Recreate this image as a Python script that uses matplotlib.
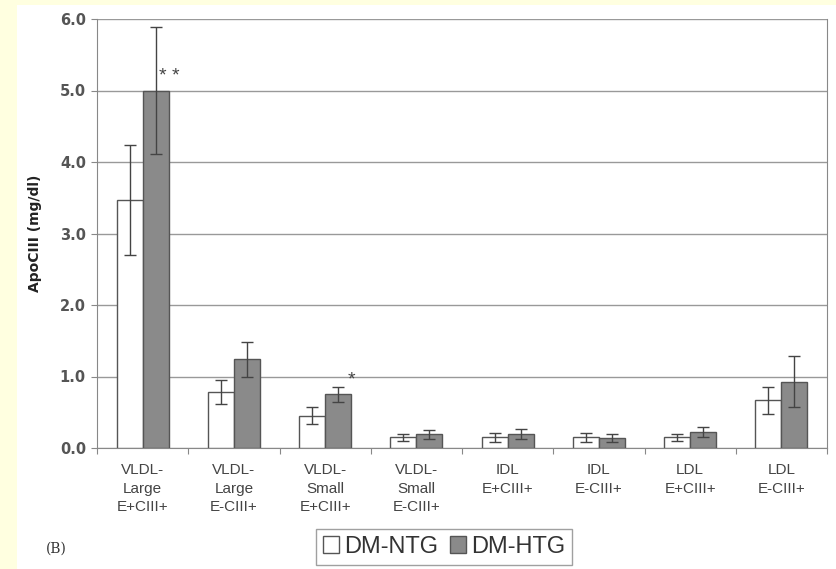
import numpy as np
import matplotlib.pyplot as plt
from matplotlib.patches import Rectangle

plt.rcParams['font.family'] = ['Liberation Sans', 'DejaVu Sans']

# ApoCIII by lipoprotein subclass
categories = ['VLDL-\nLarge\nE+CIII+', 'VLDL-\nLarge\nE-CIII+', 'VLDL-\nSmall\nE+CIII+',
              'VLDL-\nSmall\nE-CIII+', 'IDL\nE+CIII+', 'IDL\nE-CIII+',
              'LDL\nE+CIII+', 'LDL\nE-CIII+']
ntg = [3.47, 0.78, 0.45, 0.15, 0.15, 0.15, 0.15, 0.67]
ntg_err = [0.77, 0.17, 0.12, 0.05, 0.06, 0.06, 0.05, 0.19]
htg = [5.0, 1.24, 0.75, 0.19, 0.19, 0.14, 0.22, 0.93]
htg_err = [0.89, 0.24, 0.11, 0.06, 0.07, 0.05, 0.07, 0.35]
stars = {0: '* *', 2: '*'}

fig = plt.figure(figsize=(8.36, 5.69), dpi=100)
fig.patch.set_facecolor('#ffffe0')
# white sheet behind the chart
fig.patches.append(Rectangle((17 / 836, 0), 1, 1 - 5 / 569, transform=fig.transFigure,
                             facecolor='white', edgecolor='none', zorder=-1))

ax = fig.add_axes([97 / 836, 121 / 569, 730 / 836, 429 / 569])
ax.set_facecolor('white')

x = np.arange(len(categories))
w = 0.285
ekw = dict(ecolor='#444444', elinewidth=1, capsize=4, capthick=1)
ax.bar(x - w / 2, ntg, w, yerr=ntg_err, color='white', edgecolor='#555555',
       linewidth=1, label='DM-NTG', error_kw=ekw, zorder=3)
ax.bar(x + w / 2, htg, w, yerr=htg_err, color='#8a8a8a', edgecolor='#555555',
       linewidth=1, label='DM-HTG', error_kw=ekw, zorder=3)

# significance marks just above the HTG bars
for i, s in stars.items():
    ax.text(x[i] + w / 2 + 0.15, htg[i] + 0.2, s,
            ha='center', va='center', fontsize=14, color='#444444')

ax.set_xlim(-0.5, len(categories) - 0.5)
ax.set_ylim(0, 6)
ax.set_yticks(np.arange(0, 6.1, 1))
ax.set_yticklabels([f'{v:.1f}' for v in np.arange(0, 6.1, 1)], family='DejaVu Sans',
                   fontsize=10.5, fontweight='bold', color='#555555')
ax.yaxis.grid(True, color='#999999', linewidth=1)
ax.set_axisbelow(True)

ax.set_xticks(np.arange(-0.5, len(categories), 1))
ax.set_xticklabels([])
ax.set_xticks(x, minor=True)
ax.set_xticklabels(categories, minor=True, fontsize=11, color='#444444', linespacing=1.4)
ax.tick_params(axis='x', which='minor', length=0, pad=11)
ax.tick_params(axis='x', which='major', length=4, color='#888888', direction='out')
ax.tick_params(axis='y', length=4, color='#888888', pad=4)

for side in ['left', 'bottom', 'right']:
    ax.spines[side].set_color('#888888')
ax.spines['top'].set_visible(False)

ax.set_ylabel('ApoCIII (mg/dl)', family='DejaVu Sans', fontsize=10, fontweight='bold',
              color='#222222', labelpad=13)

leg = fig.legend(loc='center', bbox_to_anchor=(444 / 836, 1 - 547 / 569), ncol=2,
                 fontsize=17, frameon=True, fancybox=False, edgecolor='#888888',
                 handlelength=0.7, handleheight=0.7, handletextpad=0.2,
                 columnspacing=0.5, borderpad=0.3)
for t in leg.get_texts():
    t.set_color('#333333')

fig.text(56 / 836, 1 - 549 / 569, '(B)', family='DejaVu Serif', fontsize=10,
         color='#333333', ha='center', va='center')

fig.savefig('out.png', dpi=100, facecolor=fig.get_facecolor())
